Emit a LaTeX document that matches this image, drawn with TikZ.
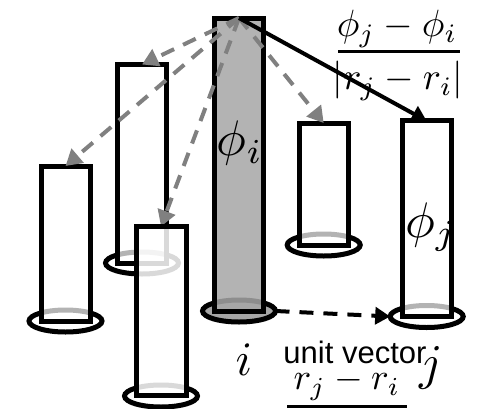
\documentclass[tikz,border=0pt]{standalone}
\usepackage{fontspec}
\setsansfont{Liberation Sans}
\usetikzlibrary{arrows.meta,shapes.geometric}
\definecolor{tubegray}{HTML}{A6A6A6}
\tikzset{
  tube/.style={draw=black,line width=5pt,rectangle,inner sep=0pt,outer sep=0pt,minimum width=#1,fill=white,fill opacity=0.7},
  tube/.default=49pt,
  base/.style={draw=black,line width=5pt,ellipse,inner sep=0pt,outer sep=0pt,minimum width=73pt,minimum height=22pt},
  grayarrow/.style={draw=gray,line width=4pt,dash pattern=on 14pt off 10pt,-{Triangle[length=16pt,width=18pt,fill=gray]}},
  blackarrow/.style={draw=black,line width=4pt,-{Triangle[length=15pt,width=17pt]}},
  dasharrow/.style={draw=black,line width=4pt,dash pattern=on 14pt off 10pt,-{Triangle[length=15pt,width=17pt]}},
  mathlabel/.style={inner sep=0pt,outer sep=0pt,scale=#1},
  bar/.style={line width=3pt}
}
\begin{document}
\begin{tikzpicture}[x=1pt,y=-1pt]
\useasboundingbox (0,0) rectangle (477,408);
\fill[white] (0,0) rectangle (477,408);
% tubes with bases
\node[base] (ba) at (65.5,321) {};
\node[tube,minimum height=155pt] (ta) at (65.5,243.5) {};
\node[base] (bb) at (142,263) {};
\node[tube,minimum height=198.5pt] (tb) at (142,163.75) {};
\node[base,fill=tubegray] (bi) at (239,311) {};
\node[tube,minimum height=293pt,fill=tubegray,fill opacity=0.85] (ti) at (239,164.5) {};
\node[base] (bd) at (323.7,245) {};
\node[tube,minimum height=122pt] (td) at (323.7,184) {};
\node[base] (be) at (426.7,316.5) {};
\node[tube,minimum height=195.5pt] (te) at (426.7,218.7) {};
% arrows
\draw[grayarrow] (ti.north) -- (tb.north);
\draw[grayarrow] (ti.north) -- (ta.north);
\draw[grayarrow] (ti.north) -- (td.north);
\coordinate (ctip) at (161,226.5);
\draw[grayarrow] (ti.north) -- (ctip);
\draw[blackarrow] (ti.north) -- (te.north);
\draw[dasharrow] (bi.east) -- (be.west);
% front tube
\node[base] (bc) at (161,396) {};
\node[tube=50pt,minimum height=169.5pt,fill opacity=0.85] (tc) at (161,311) {};
% labels
\node[mathlabel=5] (phii) at (240,143) {$\phi_i$};
\node[mathlabel=5] (phij) at (431,227) {$\phi_j$};
\node[mathlabel=3.8] (num) at (397,29) {$\phi_j-\phi_i$};
\draw[bar] (338,51.5) -- (460,51.5);
\node[mathlabel=3.8] (den) at (398,81) {$|r_j-r_i|$};
\node[mathlabel=4.8] (li) at (244,360) {$i$};
\node[mathlabel=5] (lj) at (431,368) {$j$};
\node[inner sep=0pt,outer sep=0pt,font=\sffamily\fontsize{31}{31}\selectfont] (uv) at (355,352) {unit vector};
\node[mathlabel=3.7] (vec) at (347,384) {$r_j-r_i$};
\draw[bar] (287,406) -- (407,406);
\end{tikzpicture}
\end{document}
